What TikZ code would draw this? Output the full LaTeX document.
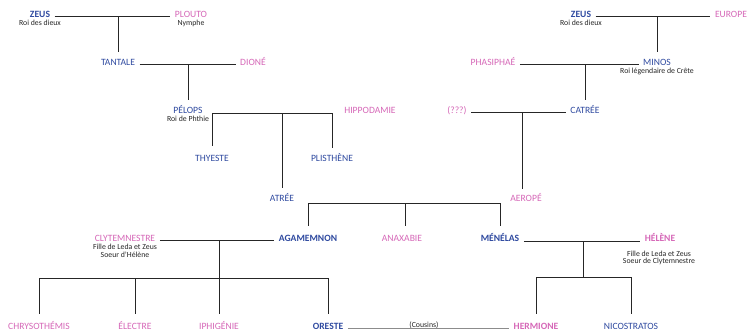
\documentclass[tikz,border=0pt]{standalone}
\usepackage{fontspec}
\setmainfont{Carlito}
\definecolor{mblue}{RGB}{47,74,160}
\definecolor{mpink}{RGB}{214,104,184}
\begin{document}
\begin{tikzpicture}[x=1pt,y=-1pt,
  person/.style={inner xsep=4.5pt, inner ysep=1pt, text height=6.1pt, text depth=0pt,
    font=\fontsize{9.6}{10}\selectfont},
  m/.style={person, text=mblue},
  f/.style={person, text=mpink},
  bm/.style={m, font=\fontsize{9.6}{10}\selectfont\bfseries},
  bf/.style={f, font=\fontsize{9.6}{10}\selectfont\bfseries},
  sub/.style={font=\fontsize{7.8}{8}\selectfont, inner sep=0pt, anchor=base, text=black!85},
  link/.style={draw=black!85, line width=0.9pt},
  cousin/.style={draw=black!45, line width=0.5pt},
  down/.style={shorten >=6pt},
  downs/.style={shorten >=8pt},
  ups/.style={shorten <=8pt}]
\useasboundingbox[fill=white] (0,0) rectangle (748,332);

% ---- left top
\node[bm] (zeusL) at (40,14) {ZEUS};
\node[sub] (zeusLs) at (40,25.5) {Roi des dieux};
\node[f] (plouto) at (191,14) {PLOUTO};
\node[sub] (ploutos) at (191,25.5) {Nymphe};
\node[m] (tantale) at (118,62) {TANTALE};
\node[f] (dione) at (253,62) {DIONÉ};
\node[m, inner ysep=0.5pt] (pelops) at (188,110) {PÉLOPS};
\node[sub] (pelopss) at (188,121) {Roi de Phthie};
\node[f] (hippo) at (370,110) {HIPPODAMIE};
\node[m] (thyeste) at (212,158) {THYESTE};
\node[m] (plisthene) at (332,158) {PLISTHÈNE};
\node[m] (atree) at (282,198) {ATRÉE};

% ---- right top
\node[bm] (zeusR) at (581,14) {ZEUS};
\node[sub] (zeusRs) at (581,25.5) {Roi des dieux};
\node[f] (europe) at (731,14) {EUROPE};
\node[f] (phasi) at (493,62) {PHASIPHAÉ};
\node[m] (minos) at (657,62) {MINOS};
\node[sub] (minoss) at (657,73.5) {Roi légendaire de Crête};
\node[f] (unk) at (457,110) {(???)};
\node[m] (catree) at (585,110) {CATRÉE};
\node[f] (aerope) at (526,198) {AEROPÉ};

% ---- row 4
\node[f] (clyt) at (125,238) {CLYTEMNESTRE};
\node[sub] (clyts1) at (125,249) {Fille de Leda et Zeus};
\node[sub] (clyts2) at (125,257.5) {Soeur d'Hélène};
\node[bm] (agam) at (308,238) {AGAMEMNON};
\node[f] (anax) at (402,238) {ANAXABIE};
\node[bm] (menelas) at (500,238.5) {MÉNÉLAS};
\node[bf] (helene) at (660,238.5) {HÉLÈNE};
\node[sub] (helenes1) at (659,256) {Fille de Leda et Zeus};
\node[sub] (helenes2) at (659,263.5) {Soeur de Clytemnestre};

% ---- row 5
\node[f] (chryso) at (39,326) {CHRYSOTHÉMIS};
\node[f] (electre) at (135,326) {ÉLECTRE};
\node[f] (iphi) at (219,326) {IPHIGÉNIE};
\node[bm] (oreste) at (328,326) {ORESTE};
\node[bf] (hermione) at (536,326) {HERMIONE};
\node[m] (nicos) at (631,326) {NICOSTRATOS};
\node[sub] (cousins) at (424,327) {(Cousins)};

\coordinate (sibA) at (405,203);
\coordinate (sibB) at (219,278);
\coordinate (sibC) at (583.5,277);

% ---- connectors
\draw[link] ([yshift=-2pt]zeusL.east) -- ([yshift=-2pt]plouto.west);
\draw[link, down] ([yshift=-2pt]tantale.north |- zeusL.east) -- (tantale.north);
\draw[link] ([yshift=-2pt]tantale.east) -- ([yshift=-2pt]dione.west);
\draw[link, shorten >=6.5pt] ([yshift=-2pt]pelops.north |- tantale.east) -- (pelops.north);
\draw[link, ups, down] (thyeste.north) -- ([yshift=-3pt]thyeste.north |- pelops.east) -- ([yshift=-3pt]plisthene.north |- pelops.east) -- (plisthene.north);
\draw[link, down] ([yshift=-3pt]atree.north |- pelops.east) -- (atree.north);

\draw[link] ([yshift=-2pt]zeusR.east) -- ([yshift=-2pt]europe.west);
\draw[link, down] ([yshift=-2pt]minos.north |- zeusR.east) -- (minos.north);
\draw[link] ([yshift=-2pt]phasi.east) -- ([yshift=-2pt]minos.west);
\draw[link, down] ([yshift=-2pt]catree.north |- minos.west) -- (catree.north);
\draw[link] ([yshift=-2pt]unk.east) -- ([yshift=-2pt]catree.west);
\draw[link, shorten >=5pt] ([xshift=-4pt,yshift=-2pt]aerope.north |- unk.east) -- ([xshift=-4pt]aerope.north);

\draw[link, ups, downs] (agam.north) |- (menelas.north |- sibA) -- (menelas.north);
\draw[link, downs] (sibA) -- (sibA |- anax.north);

\draw[link] ([yshift=-2pt]clyt.east) -- ([yshift=-2pt]agam.west);
\draw[link, downs] ([yshift=-2pt]iphi.north |- clyt.east) -- (iphi.north);
\draw[link, ups, downs] (chryso.north) |- (oreste.north |- sibB) -- (oreste.north);
\draw[link, downs] (sibB -| electre.north) -- (electre.north);

\draw[link] ([yshift=-2.5pt]menelas.east) -- ([yshift=-2.5pt]helene.west);
\draw[link] ([yshift=-2.5pt]sibC |- menelas.east) -- (sibC);
\draw[link, ups, downs] (hermione.north) |- (nicos.north |- sibC) -- (nicos.north);

\draw[cousin] ([yshift=-2.5pt]oreste.east) -- ([yshift=-2.5pt]hermione.west);
\end{tikzpicture}
\end{document}
